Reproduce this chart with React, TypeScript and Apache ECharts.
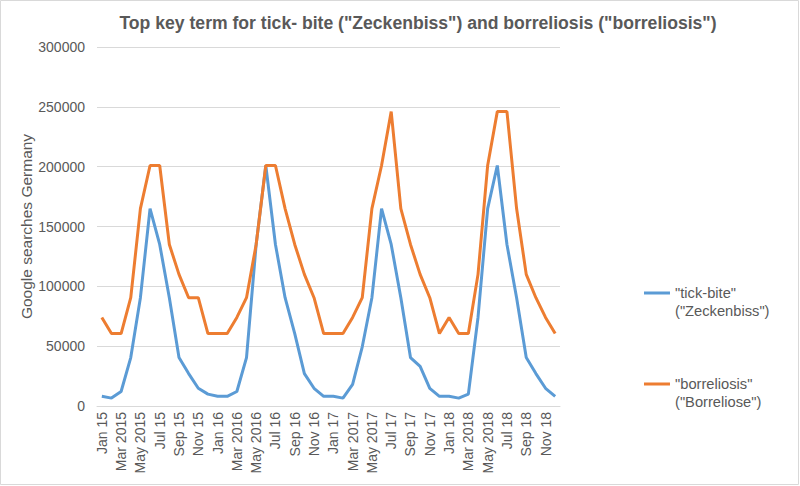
import React, { useEffect, useRef } from "react";
import * as echarts from "echarts";

const months: string[] = [
  "Jan 15", "Feb 15", "Mar 2015", "Apr 15", "May 2015", "Jun 15", "Jul 15", "Aug 15", "Sep 15", "Oct 15", "Nov 15", "Dec 15",
  "Jan 16", "Feb 16", "Mar 2016", "Apr 16", "May 2016", "Jun 16", "Jul 16", "Aug 16", "Sep 16", "Oct 16", "Nov 16", "Dec 16",
  "Jan 17", "Feb 17", "Mar 2017", "Apr 17", "May 2017", "Jun 17", "Jul 17", "Aug 17", "Sep 17", "Oct 17", "Nov 17", "Dec 17",
  "Jan 18", "Feb 18", "Mar 2018", "Apr 18", "May 2018", "Jun 18", "Jul 18", "Aug 18", "Sep 18", "Oct 18", "Nov 18", "Dec 18",
];

const tickBite: number[] = [
  8100, 6600, 12100, 40500, 90500, 165000, 135000, 90500, 40500, 27100, 14800, 9900,
  8100, 8100, 12100, 40500, 135000, 201000, 135000, 90500, 60500, 27100, 14800, 8100,
  8100, 6600, 18100, 49500, 90500, 165000, 135000, 90500, 40500, 33100, 14800, 8100,
  8100, 6600, 9900, 74000, 165000, 201000, 135000, 90500, 40500, 27100, 14800, 8100,
];

const borreliosis: number[] = [
  74000, 60500, 60500, 90500, 165000, 201000, 201000, 135000, 110000, 90500, 90500, 60500,
  60500, 60500, 74000, 90500, 135000, 201000, 201000, 165000, 135000, 110000, 90500, 60500,
  60500, 60500, 74000, 90500, 165000, 201000, 246000, 165000, 135000, 110000, 90500, 60500,
  74000, 60500, 60500, 110000, 201000, 246000, 246000, 165000, 110000, 90500, 74000, 60500,
];

const seriesNames: string[] = ['"tick-bite"\n("Zeckenbiss")', '"borreliosis"\n("Borreliose")'];
const titleText = 'Top key term for tick- bite ("Zeckenbiss") and borreliosis ("borreliosis")';
const yAxisName = "Google searches Germany";

const FONT = "Liberation Sans, Arial, sans-serif";
const TEXT = "#595959";
// legend icon: line at the top of a taller box so it sits beside the first text line
const LEGEND_ICON = "path://M0,0h26v3h-26z M0,21h0.01v0.01h-0.01z";

export default function App() {
  const ref = useRef<HTMLDivElement>(null);
  useEffect(() => {
    if (!ref.current) return;
    const chart = echarts.init(ref.current, undefined, { renderer: "svg" });
    chart.setOption({
      animation: false,
      backgroundColor: "#ffffff",
      title: {
        text: titleText,
        left: 413,
        top: 9,
        textAlign: "center",
        textStyle: { fontFamily: FONT, fontSize: 17.6, fontWeight: "bold", color: TEXT },
      },
      graphic: [
        {
          type: "rect",
          shape: { x: 0.5, y: 0.5, width: 798, height: 484 },
          style: { fill: "none", stroke: "#d9d9d9", lineWidth: 1 },
          silent: true,
        },
      ],
      legend: {
        orient: "vertical",
        left: 644,
        top: 284,
        padding: 0,
        itemGap: 55,
        itemWidth: 26,
        itemHeight: 21,
        icon: LEGEND_ICON,
        data: seriesNames,
        textStyle: { fontFamily: FONT, fontSize: 14.7, color: TEXT, lineHeight: 18 },
      },
      grid: { left: 97, right: 240, top: 47, bottom: 80, containLabel: false },
      xAxis: {
        type: "category",
        data: months,
        boundaryGap: true,
        axisLine: { lineStyle: { color: "#d9d9d9", width: 1 } },
        axisTick: { show: false },
        axisLabel: {
          interval: 1,
          rotate: 90,
          margin: 6,
          fontFamily: FONT,
          fontSize: 14,
          color: TEXT,
        },
      },
      yAxis: {
        type: "value",
        min: 0,
        max: 300000,
        interval: 50000,
        name: yAxisName,
        nameLocation: "middle",
        nameGap: 63,
        nameMoveOverlap: false,
        nameTextStyle: { fontFamily: FONT, fontSize: 15.5, color: TEXT },
        axisLine: { show: false },
        axisTick: { show: false },
        splitLine: { lineStyle: { color: "#d9d9d9", width: 1 } },
        axisLabel: {
          fontFamily: FONT,
          fontSize: 14,
          color: TEXT,
          margin: 12,
          formatter: (v: number) => String(v),
        },
      },
      series: [
        {
          name: seriesNames[0],
          type: "line",
          data: tickBite,
          showSymbol: false,
          symbol: "none",
          lineStyle: { color: "#5B9BD5", width: 3 },
          itemStyle: { color: "#5B9BD5" },
        },
        {
          name: seriesNames[1],
          type: "line",
          data: borreliosis,
          showSymbol: false,
          symbol: "none",
          lineStyle: { color: "#ED7D31", width: 3 },
          itemStyle: { color: "#ED7D31" },
        },
      ],
    });
    return () => chart.dispose();
  }, []);
  return (
    <div
      ref={ref}
      style={{ position: "fixed", left: 0, top: 0, width: 800, height: 486 }}
    />
  );
}
